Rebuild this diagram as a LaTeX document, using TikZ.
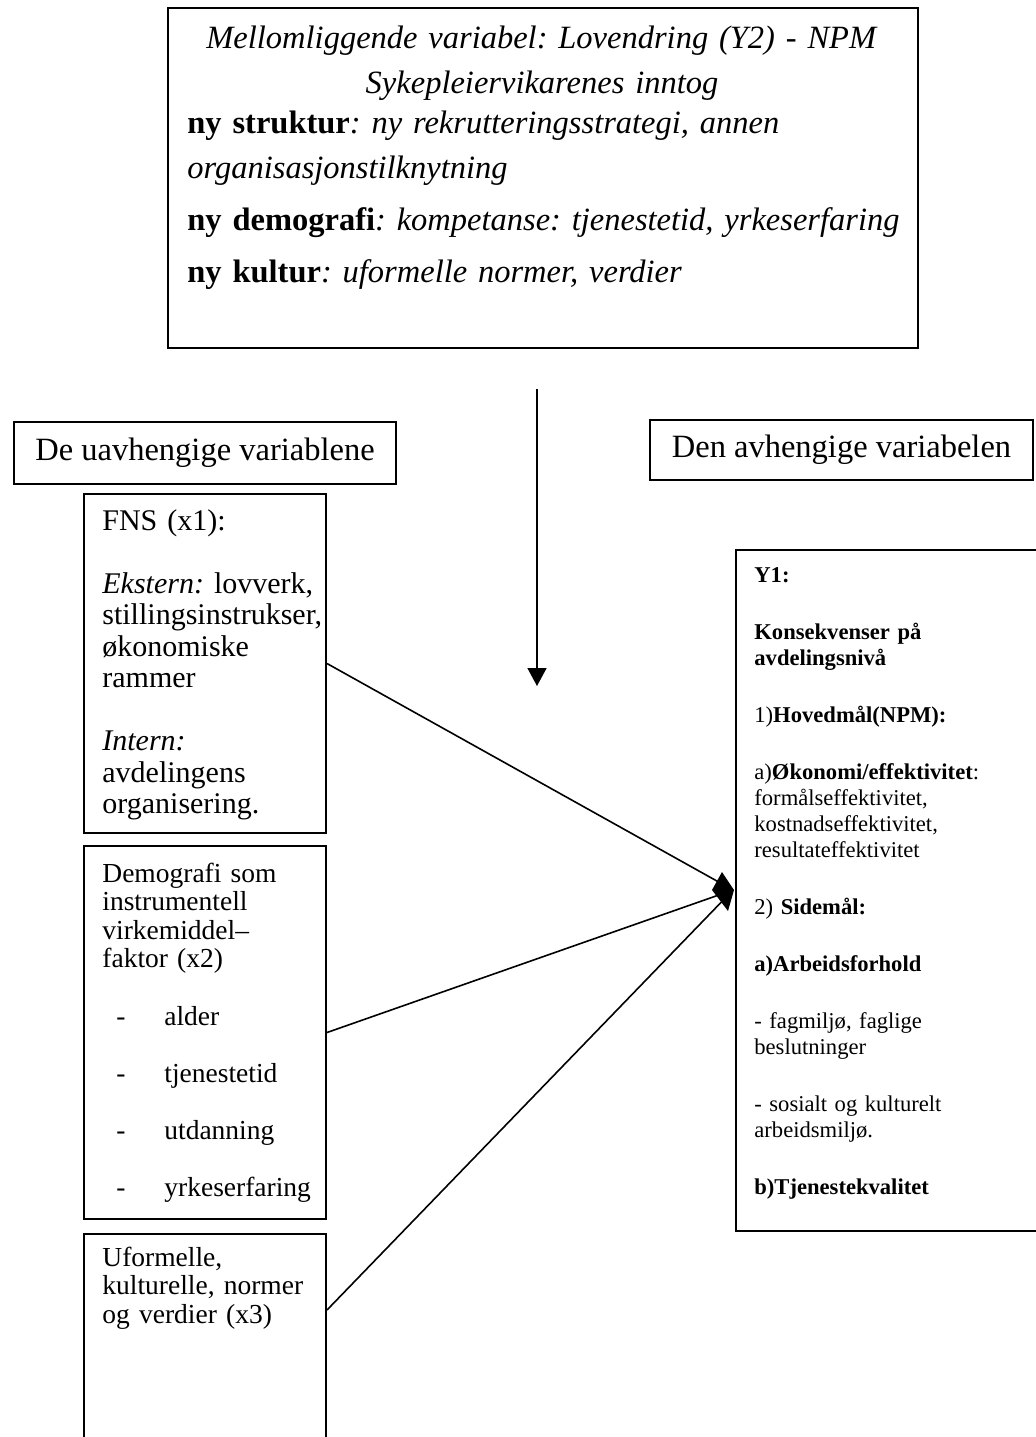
\documentclass[tikz,border=0pt]{standalone}
\usepackage{fontspec}
\setmainfont{Liberation Serif}
\usetikzlibrary{arrows.meta}
\frenchspacing
\begin{document}
\begin{tikzpicture}[x=0.5pt,y=-0.5pt,
  box/.style={draw, line width=1pt, inner sep=0pt, anchor=north west},
  conn/.style={line width=0.8pt},
  txt/.style={inner sep=0pt, anchor=base west, align=left},
  hdrf/.style={font=\fontsize{16.25pt}{19.5pt}\selectfont},
  topf/.style={font=\fontsize{16.25pt}{19.5pt}\selectfont},
  fnsf/.style={font=\fontsize{15pt}{15.75pt}\selectfont},
  leftf/.style={font=\fontsize{13.75pt}{14.3pt}\selectfont},
  rf/.style={font=\fontsize{11.3pt}{13pt}\selectfont}
]
\useasboundingbox (0,0) rectangle (1036,1437);
\clip (0,0) rectangle (1036,1437);

% top box
\node[box, minimum width=375pt, minimum height=170pt] (top) at (167,7) {};
\node[txt, topf, anchor=base, text width=370pt, align=center] (toptitle) at (542,48)
  {\textit{Mellomliggende variabel: Lovendring (Y2) - NPM}\\[3pt]\textit{Sykepleiervikarenes inntog}};
\node[txt, topf, text width=370pt] (topbody) at (187,133)
  {\textbf{ny struktur}\textit{: ny rekrutteringsstrategi, annen}\\[3pt]
   \textit{organisasjonstilknytning}\\[6.5pt]
   \textbf{ny demografi}\textit{: kompetanse: tjenestetid, yrkeserfaring}\\[6.5pt]
   \textbf{ny kultur}\textit{: uformelle normer, verdier}};

% vertical arrow
\coordinate (arrowtop) at (537,389);
\coordinate (arrowtip) at (537,686);
\draw[conn, -{Triangle[width=9.5pt,length=9pt]}] (arrowtop) -- (arrowtip);

% headers
\node[box, hdrf, minimum width=191pt, minimum height=31pt] (lh) at (13,421) {De uavhengige variablene};
\node[box, hdrf, minimum width=191.5pt, minimum height=30pt] (rh) at (649,419) {Den avhengige variabelen};

% FNS box
\node[box, minimum width=121pt, minimum height=169.5pt] (fns) at (83,493) {};
\node[txt, fnsf, text width=118pt] (fnst) at (102,530)
  {FNS (x1):\\[15.75pt]
   \textit{Ekstern:} lovverk,\\
   stillingsinstrukser,\\
   økonomiske\\
   rammer\\[15.75pt]
   \textit{Intern:}\\
   avdelingens\\
   organisering.};

% Demografi box
\node[box, minimum width=121pt, minimum height=186.5pt] (demo) at (83,845) {};
\node[txt, leftf, text width=118pt] (demot) at (102,882)
  {Demografi som\\
   instrumentell\\
   virkemiddel\textendash\\
   faktor (x2)\\[14.3pt]
   \hspace*{7pt}\makebox[24pt][l]{-}alder\\[14.3pt]
   \hspace*{7pt}\makebox[24pt][l]{-}tjenestetid\\[14.3pt]
   \hspace*{7pt}\makebox[24pt][l]{-}utdanning\\[14.3pt]
   \hspace*{7pt}\makebox[24pt][l]{-}yrkeserfaring};

% Uformelle box
\node[box, minimum width=121pt, minimum height=140pt] (uf) at (83,1233) {};
\node[txt, leftf, text width=118pt] (uft) at (102,1266)
  {Uformelle,\\
   kulturelle, normer\\
   og verdier (x3)};

% Y1 box
\node[box, minimum width=182.5pt, minimum height=340.5pt] (y1) at (735,549) {};
\node[txt, rf, text width=135pt] (y1t) at (754,582)
  {\textbf{Y1:}\\[15.5pt]
   \textbf{Konsekvenser på}\\
   \textbf{avdelingsnivå}\\[15.5pt]
   1)\textbf{Hovedmål(NPM):}\\[15.5pt]
   a)\textbf{Økonomi/effektivitet}:\\
   formålseffektivitet,\\
   kostnadseffektivitet,\\
   resultateffektivitet\\[15.5pt]
   2) \textbf{Sidemål:}\\[15.5pt]
   \textbf{a)Arbeidsforhold}\\[15.5pt]
   - fagmiljø, faglige\\
   beslutninger\\[15.5pt]
   - sosialt og kulturelt\\
   arbeidsmiljø.\\[15.5pt]
   \textbf{b)Tjenestekvalitet}};

% connectors
\coordinate (hub) at (733,890);
\draw[conn] (fns.east) -- (hub);
\draw[conn] (demo.east) -- (hub);
\draw[conn] ([yshift=-38.5pt]uf.north east) -- (hub);
\fill (722,872) -- (734,890) -- (728,911) -- (712,890) -- cycle;
\end{tikzpicture}
\end{document}
